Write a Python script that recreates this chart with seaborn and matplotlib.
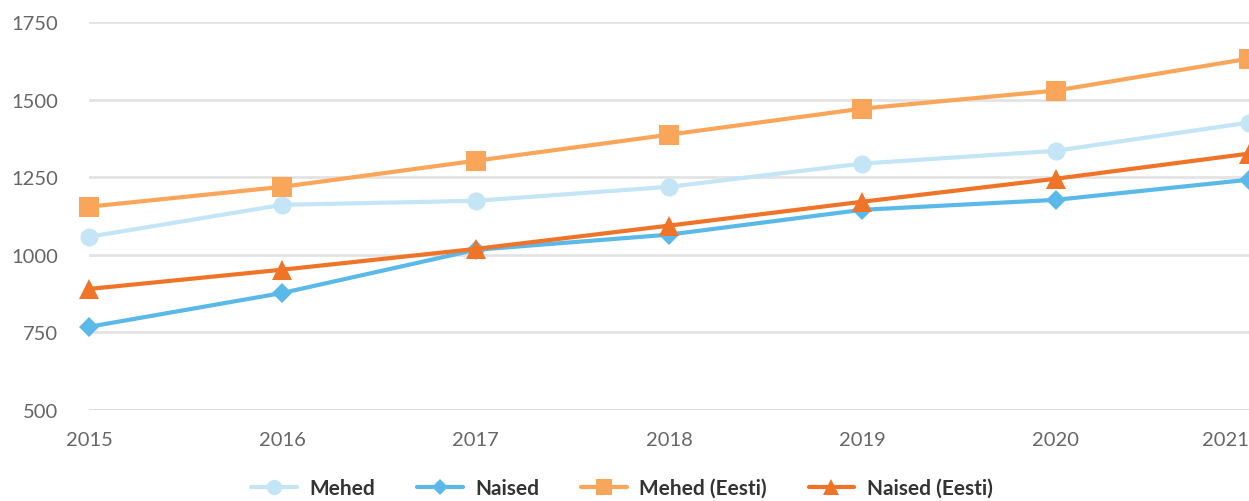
import matplotlib
matplotlib.use("Agg")
import matplotlib.pyplot as plt
import seaborn as sns
import pandas as pd

years = [2015, 2016, 2017, 2018, 2019, 2020, 2021]
mehed = [1058, 1161, 1174, 1219, 1294, 1335, 1426]
naised = [768, 877, 1016, 1065, 1145, 1177, 1242]
mehed_eesti = [1155, 1219, 1303, 1387, 1471, 1529, 1632]
naised_eesti = [890, 952, 1019, 1094, 1171, 1245, 1326]
series_names = ["Mehed", "Naised", "Mehed (Eesti)", "Naised (Eesti)"]
yticks = [500, 750, 1000, 1250, 1500, 1750]

colors = ["#c3e5f6", "#5bb9e9", "#f9a65a", "#ef7427"]
markers = ["o", "D", "s", "^"]
msizes = [13, 10, 14, 14]

sns.set_theme(style="white")
plt.rcParams["font.family"] = ["Lato", "DejaVu Sans"]

df = pd.DataFrame({"year": years * 4,
                   "value": mehed + naised + mehed_eesti + naised_eesti,
                   "series": sum([[n] * len(years) for n in series_names], [])})

fig = plt.figure(figsize=(12.49, 5.02), dpi=100)
ax = fig.add_axes([89 / 1249, 1 - 411 / 502, 1 - 89 / 1249, (411 - 23) / 502])

for name, c, m, ms in zip(series_names, colors, markers, msizes):
    sub = df[df["series"] == name]
    sns.lineplot(data=sub, x="year", y="value", ax=ax, color=c, marker=m,
                 markersize=ms, markeredgewidth=0, linewidth=3, label=name,
                 clip_on=False, zorder=3)

ax.set_xlim(2015, 2021)
ax.set_ylim(500, 1750)
ax.set_yticks(yticks)
ax.set_xticks(years)
ax.set_xlabel("")
ax.set_ylabel("")
for s in ax.spines.values():
    s.set_visible(False)
for v in yticks:
    ax.axhline(v, color="#d3d8e6" if v == 500 else "#e3e3e3", linewidth=2, zorder=1)
ax.tick_params(axis="both", length=0, labelsize=14.5, labelcolor="#666666")
ax.tick_params(axis="y", pad=22)
ax.tick_params(axis="x", pad=15)
for lbl in ax.get_yticklabels():
    lbl.set_horizontalalignment("right")
ax.get_xticklabels()[-1].set_horizontalalignment("right")

handles, labels = ax.get_legend_handles_labels()
ax.legend(handles, labels, loc="center", bbox_to_anchor=(622 / 1249, 1 - 489 / 502),
          bbox_transform=fig.transFigure, ncol=4, frameon=False,
          handlelength=2.2, columnspacing=2.0, handletextpad=0.6, markerscale=0.85,
          prop={"weight": "bold", "size": 15})
for t in ax.get_legend().get_texts():
    t.set_color("#333333")

fig.savefig("out.png", dpi=100)
